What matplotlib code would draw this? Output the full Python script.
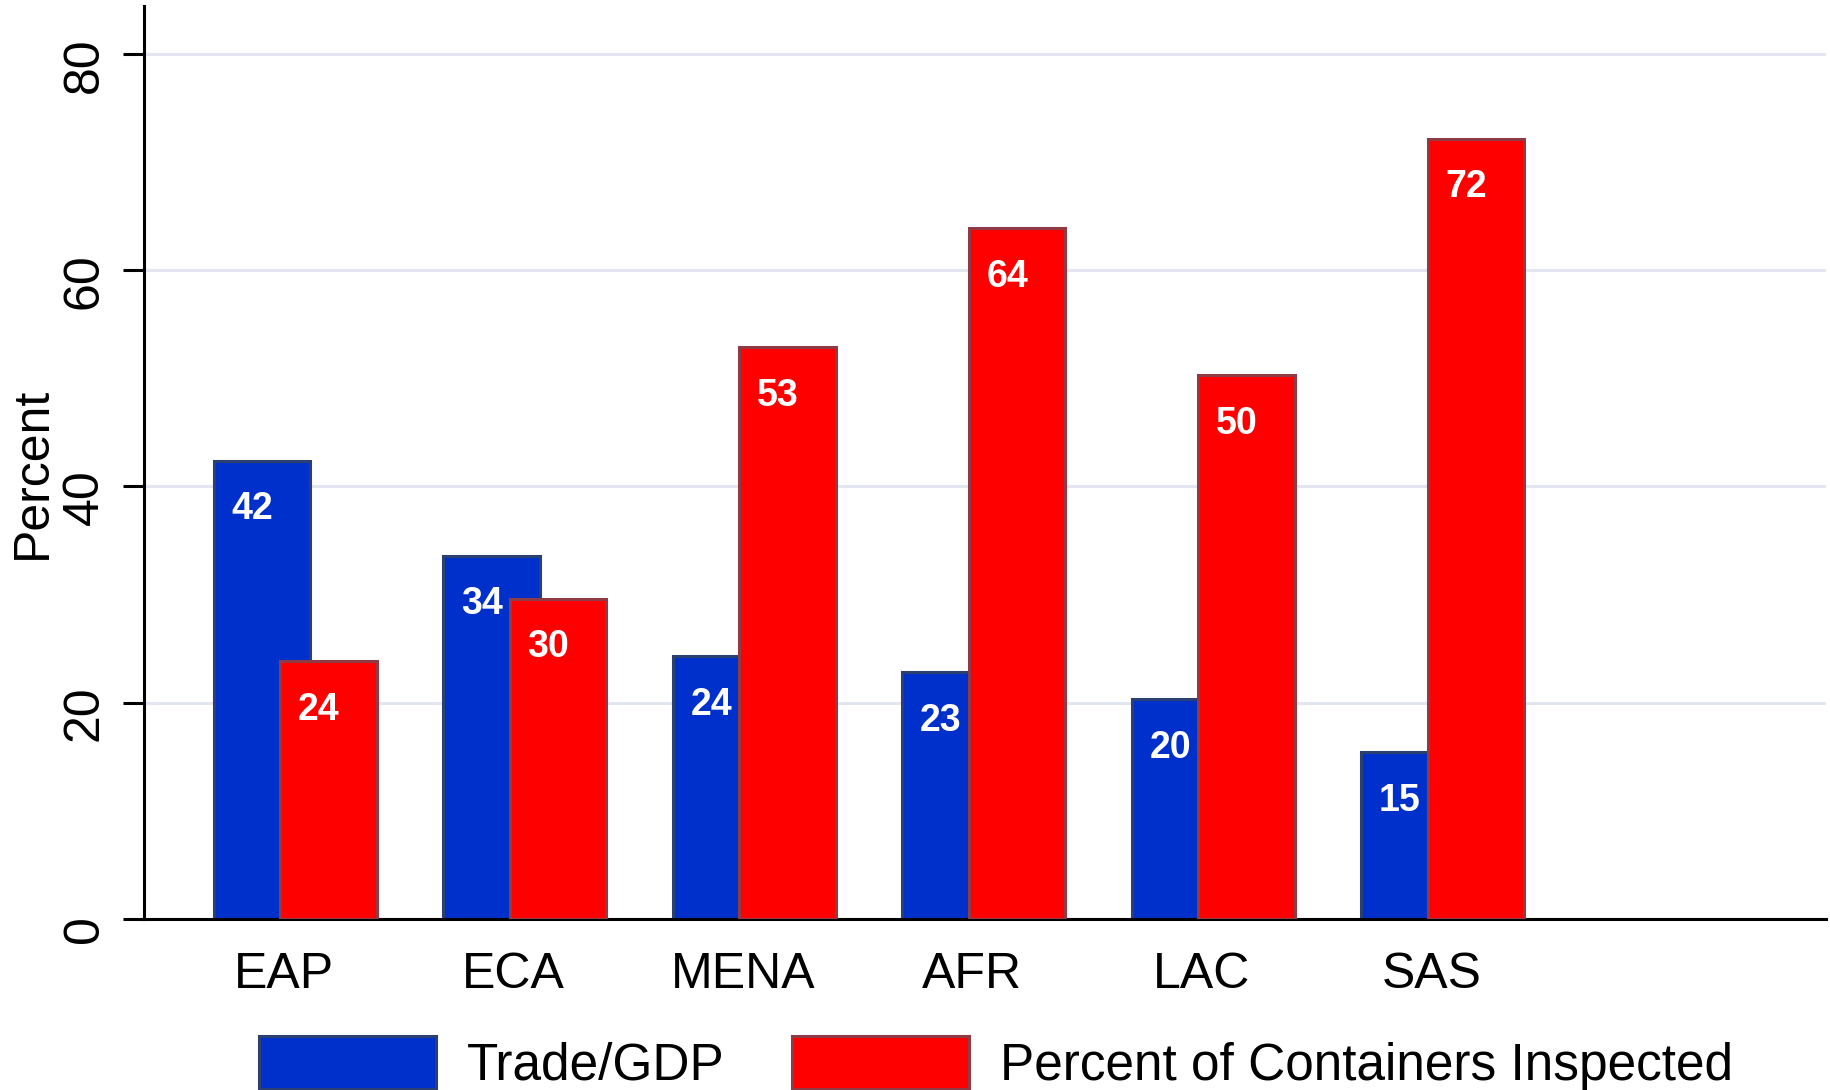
import matplotlib
matplotlib.use('Agg')
import numpy as np
import matplotlib.pyplot as plt
import matplotlib.transforms as mtransforms

# data
regions = ['EAP', 'ECA', 'MENA', 'AFR', 'LAC', 'SAS']
trade_gdp = [42.4, 33.6, 24.3, 22.8, 20.3, 15.4]
containers = [23.8, 29.6, 52.9, 63.9, 50.3, 72.2]
series_names = ['Trade/GDP', 'Percent of Containers Inspected']
yticks = [0, 20, 40, 60, 80]

plt.rcParams['font.family'] = ['Liberation Sans', 'DejaVu Sans']

fig = plt.figure(figsize=(18.3, 10.9), dpi=100)
ax = fig.add_axes([0.0785, 0.1573, 0.9195, 0.8374])

x = np.arange(len(regions))
w = 0.42
off = 0.145
b1 = ax.bar(x - off, trade_gdp, w, color='#0030CC', edgecolor='#2B3F70', linewidth=2.2,
            label=series_names[0], zorder=2)
b2 = ax.bar(x + off, containers, w, color='#FF0000', edgecolor='#8E3B46', linewidth=2.2,
            label=series_names[1], zorder=3)

# value labels inside the top of each bar
for bars, vals in ((b1, trade_gdp), (b2, containers)):
    for rect, v in zip(bars, vals):
        ax.annotate(f'{v:.0f}', (rect.get_x() + rect.get_width() / 2, rect.get_height()),
                    xytext=(-7, -35), textcoords='offset points', ha='center', va='center',
                    color='white', fontsize=27, fontweight='bold', zorder=5)

ax.set_xlim(-0.66, 6.67)
ax.set_ylim(0, 84.5)
ax.set_yticks(yticks)
ax.set_yticklabels([str(t) for t in yticks], rotation=90, va='center', fontsize=36)
ax.set_xticks(x - 0.05)
ax.set_xticklabels(regions, fontsize=36)
ax.tick_params(axis='x', length=0, pad=24)
ax.tick_params(axis='y', length=15, width=2.2, pad=11)
ax.set_ylabel('Percent', fontsize=36)
ax.yaxis.set_label_coords(-0.052, 0.488)

shift = mtransforms.ScaledTranslation(0, -11 / 100, fig.dpi_scale_trans)
for lbl in ax.get_yticklabels():
    lbl.set_transform(lbl.get_transform() + shift)

ax.grid(axis='y', color='#E1E6F0', linewidth=2.2, zorder=0)
ax.set_axisbelow(True)
for s in ['top', 'right']:
    ax.spines[s].set_visible(False)
for s in ['left', 'bottom']:
    ax.spines[s].set_linewidth(2.2)

fig.legend(handles=[b1, b2], labels=series_names, loc='upper left',
           bbox_to_anchor=(259 / 1830, 1 - 1036 / 1090), ncol=2, frameon=False,
           fontsize=37, handlelength=3.45, handleheight=1.2, handletextpad=0.6,
           columnspacing=1.3, borderpad=0, borderaxespad=0)

fig.savefig('out.png', dpi=100)
